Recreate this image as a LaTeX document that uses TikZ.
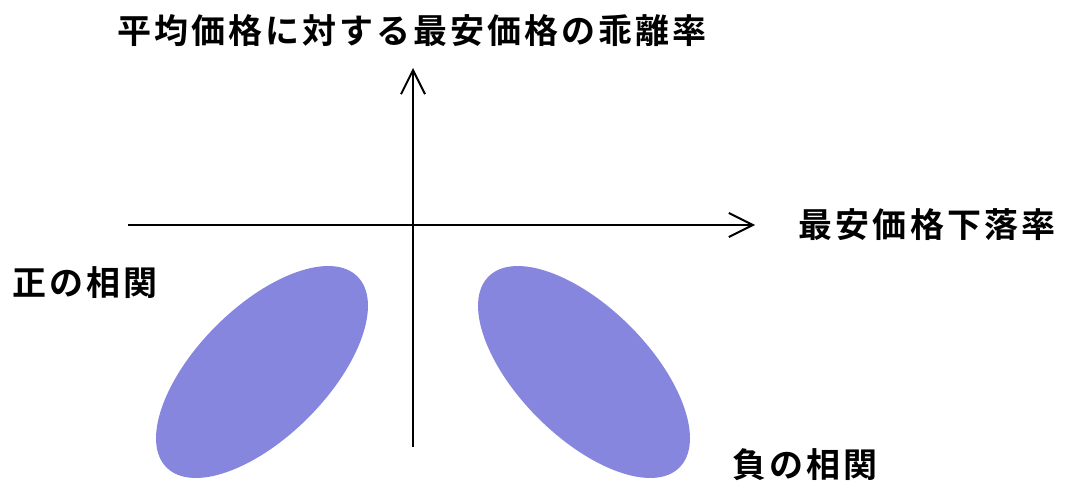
\documentclass[tikz,border=0pt]{standalone}
\usepackage{fontspec}
\newfontfamily\jpfont[LetterSpace=9,BoldFont={Noto Sans CJK JP Bold}]{Noto Sans CJK JP}
\usetikzlibrary{arrows.meta,shapes.geometric}
\definecolor{blob}{RGB}{134,134,223}
\tikzset{
  axis/.style={line width=2pt,-{Straight Barb[length=24pt,width=24pt,line width=2pt]}},
  lbl/.style={font=\jpfont\bfseries\fontsize{34}{38}\selectfont,inner sep=0pt,anchor=center},
  blobshape/.style={ellipse,fill=blob,draw=none,inner sep=0pt,minimum width=270pt,minimum height=130pt}
}
\begin{document}
\begin{tikzpicture}[x=1pt,y=1pt]
\useasboundingbox (0,0) rectangle (1065,485);
\coordinate (vb) at (413,38);
\coordinate (vt) at (413,417);
\coordinate (hl) at (128,260);
\coordinate (hr) at (755,260);
\draw[axis] (vb) -- (vt);
\draw[axis] (hl) -- (hr);
\node[lbl] (ytitle) at (412,454) {平均価格に対する最安価格の乖離率};
\node[lbl] (xtitle) at (927,260) {最安価格下落率};
\node[blobshape,rotate=45] (pos) at (262,113) {};
\node[blobshape,rotate=-45] (neg) at (584,113) {};
\node[lbl] (poslbl) at (85,202) {正の相関};
\node[lbl] (neglbl) at (805,20) {負の相関};
\end{tikzpicture}
\end{document}
